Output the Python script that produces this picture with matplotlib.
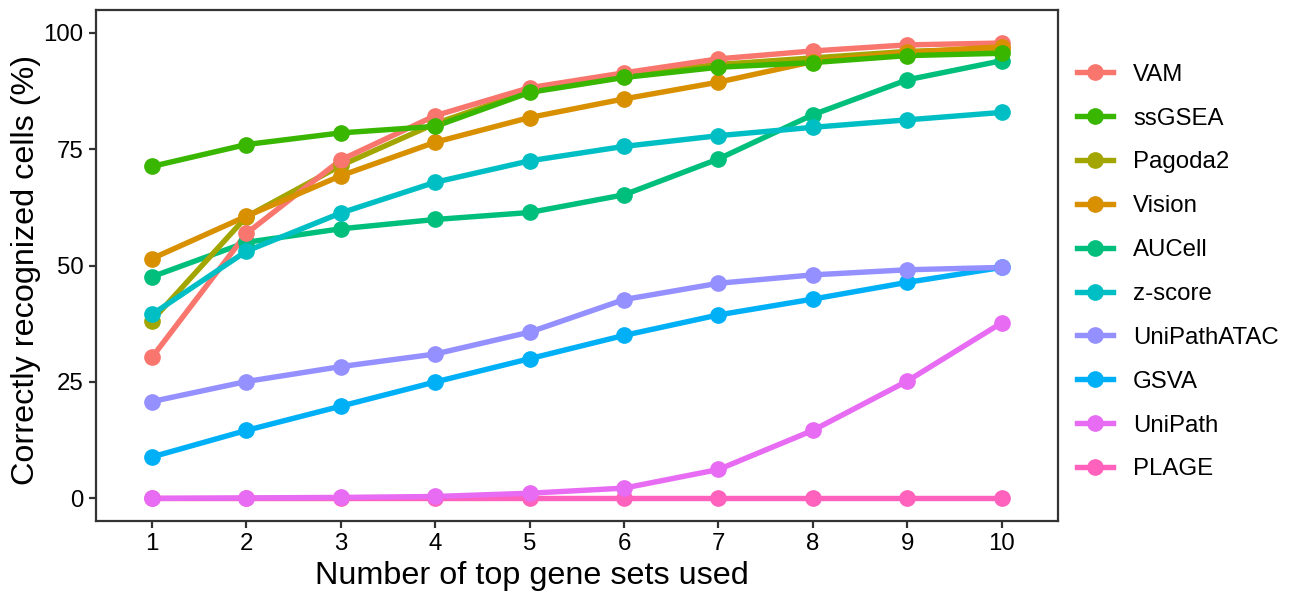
import matplotlib
matplotlib.use("Agg")
import matplotlib.pyplot as plt
from matplotlib.lines import Line2D

plt.rcParams['font.family'] = ['Liberation Sans', 'DejaVu Sans']

n_sets = [1, 2, 3, 4, 5, 6, 7, 8, 9, 10]

methods = ["VAM", "ssGSEA", "Pagoda2", "Vision", "AUCell",
           "z-score", "UniPathATAC", "GSVA", "UniPath", "PLAGE"]

colors = {
    "VAM": "#F8766D", "ssGSEA": "#39B600", "Pagoda2": "#A3A500",
    "Vision": "#D89000", "AUCell": "#00BF7D", "z-score": "#00BFC4",
    "UniPathATAC": "#9590FF", "GSVA": "#00B0F6", "UniPath": "#E76BF3",
    "PLAGE": "#FF62BC",
}

vam = [30.3, 56.9, 72.7, 82.2, 88.2, 91.4, 94.4, 96.1, 97.4, 97.8]
ssgsea = [71.3, 76.0, 78.5, 79.9, 87.2, 90.4, 92.6, 93.6, 95.1, 95.6]
pagoda2 = [38.2, 60.5, 71.5, 80.5, 87.5, 91.0, 93.2, 94.6, 96.0, 96.6]
vision = [51.5, 60.6, 69.3, 76.5, 81.8, 85.8, 89.4, 93.8, 95.8, 97.0]
aucell = [47.6, 55.0, 57.9, 59.9, 61.4, 65.2, 72.9, 82.4, 89.9, 94.0]
zscore = [39.5, 53.1, 61.3, 67.9, 72.5, 75.6, 77.9, 79.7, 81.3, 82.9]
unipath_atac = [20.8, 25.1, 28.3, 31.0, 35.7, 42.7, 46.2, 48.0, 49.1, 49.6]
gsva = [8.9, 14.6, 19.8, 25.0, 30.0, 35.0, 39.4, 42.8, 46.4, 49.6]
unipath = [0.0, 0.1, 0.2, 0.4, 1.1, 2.2, 6.2, 14.6, 25.2, 37.7]
plage = [0.0, 0.0, 0.0, 0.0, 0.0, 0.0, 0.0, 0.0, 0.0, 0.0]

values = {
    "VAM": vam, "ssGSEA": ssgsea, "Pagoda2": pagoda2, "Vision": vision,
    "AUCell": aucell, "z-score": zscore, "UniPathATAC": unipath_atac,
    "GSVA": gsva, "UniPath": unipath, "PLAGE": plage,
}

# drawing order follows sorted group names (later ones end up on top)
draw_order = ["AUCell", "GSVA", "PLAGE", "Pagoda2", "UniPath",
              "UniPathATAC", "VAM", "Vision", "ssGSEA", "z-score"]

fig = plt.figure(figsize=(12.96, 6.01), dpi=100)
ax = fig.add_axes([0.0741, 0.1336, 0.7420, 0.8498])

for m in draw_order:
    ax.plot(n_sets, values[m], color=colors[m], lw=3.9, zorder=2,
            solid_capstyle='butt')
for m in draw_order:
    ax.plot(n_sets, values[m], ls='none', marker='o', ms=11,
            color=colors[m], zorder=3)

ax.set_xlim(0.407, 10.593)
ax.set_ylim(-4.8, 104.9)
ax.set_xticks(n_sets)
ax.set_yticks([0, 25, 50, 75, 100])

for s in ax.spines.values():
    s.set_color('#333333')
    s.set_linewidth(1.6)
ax.tick_params(axis='both', direction='out', length=5, width=1.6,
               color='#333333', labelsize=17.3, labelcolor='black', pad=4)

ax.set_xlabel("Number of top gene sets used", fontsize=23.3, labelpad=4)
ax.set_ylabel("Correctly recognized cells (%)", fontsize=23.3, labelpad=1.5)
ax.xaxis.label.set_x(0.453)
ax.yaxis.label.set_y(0.49)

handles = [Line2D([0], [0], color=colors[m], lw=3.9, marker='o', ms=11)
           for m in methods]
leg = fig.legend(handles, methods, loc='upper left',
                 bbox_to_anchor=(0.8236, 0.910), frameon=False,
                 fontsize=17.3, handlelength=1.5, handletextpad=0.83,
                 labelspacing=0.91, borderaxespad=0)

fig.savefig("out.png", dpi=100)
